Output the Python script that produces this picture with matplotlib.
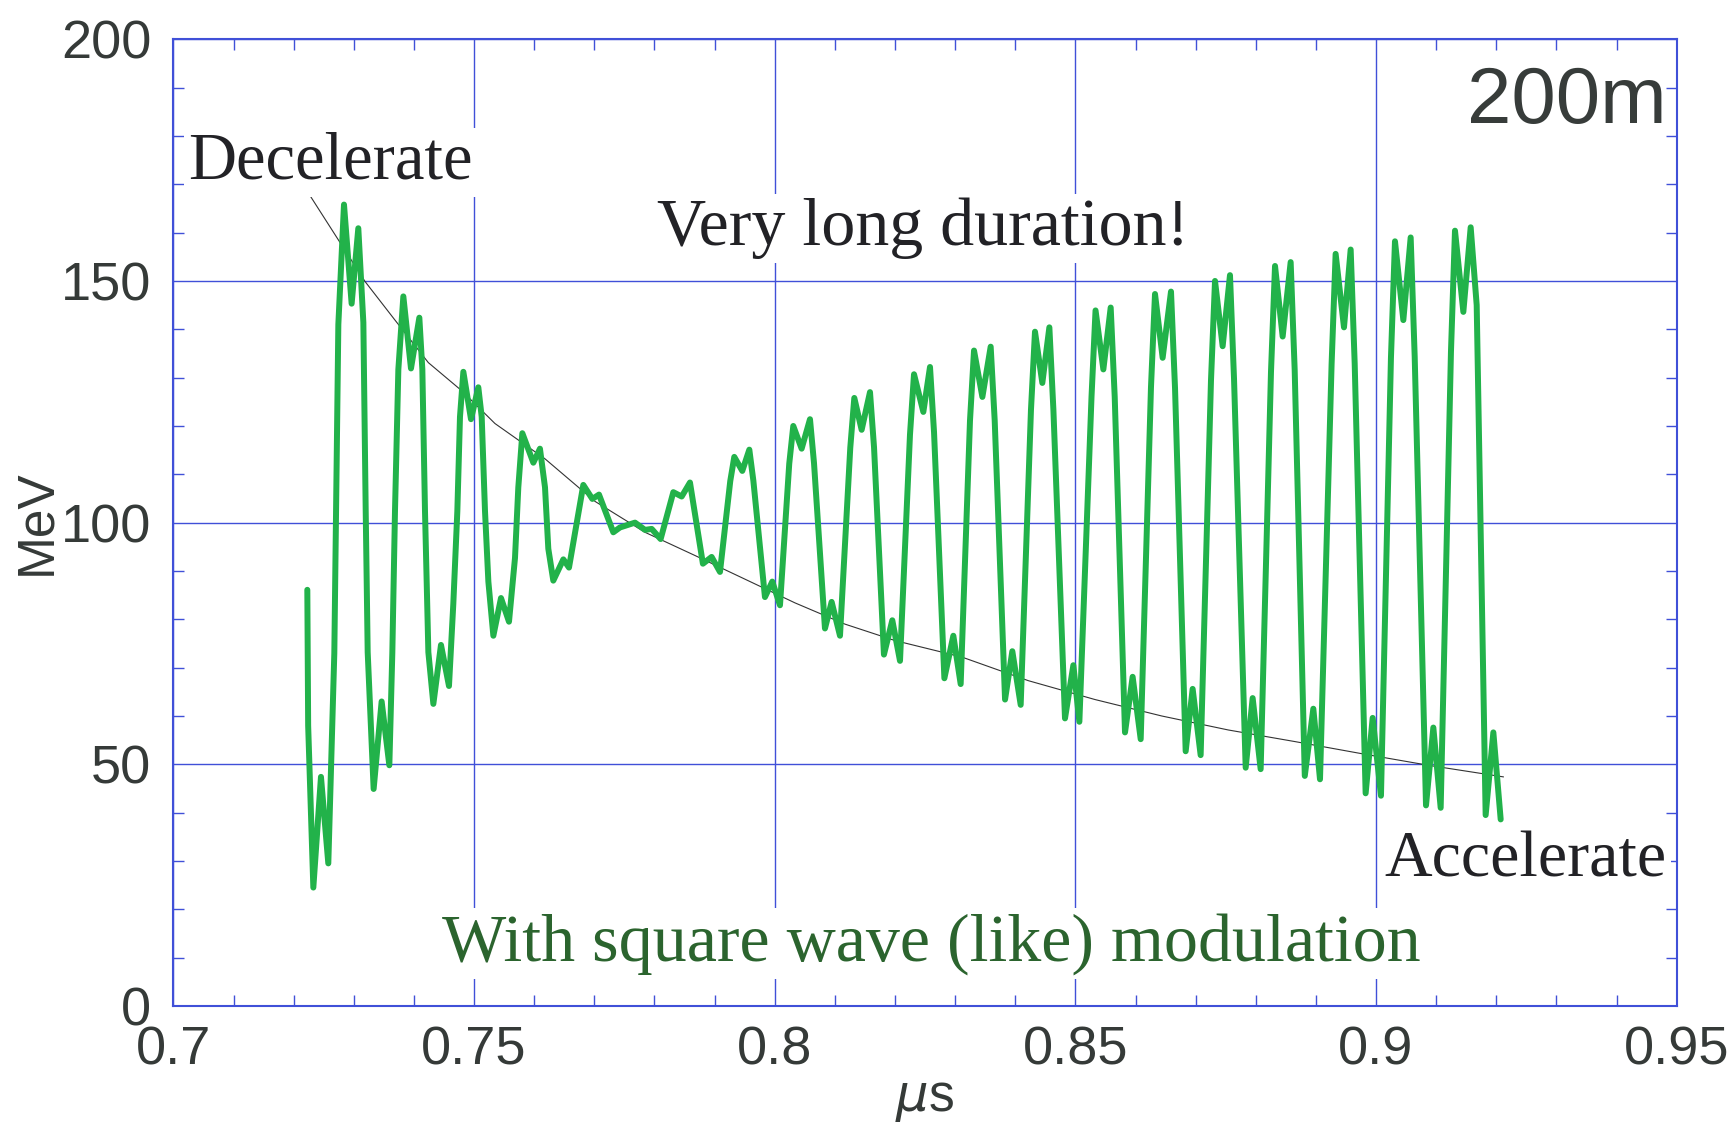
import matplotlib
matplotlib.use("Agg")
import matplotlib.pyplot as plt
import numpy as np

# energy of the bunch (green), one rf bucket per row
t_us = [0.72226, 0.72240, 0.72326, 0.72453, 0.72575, 0.72675, 0.72742,
        0.72836, 0.72963, 0.73074, 0.73158, 0.73197, 0.73230,
        0.73329, 0.73462, 0.73590, 0.73640, 0.73684, 0.73740,
        0.73823, 0.73950, 0.74089, 0.74139, 0.74183, 0.74239,
        0.74322, 0.74449, 0.74582, 0.74654, 0.74721, 0.74765,
        0.74821, 0.74948, 0.75070, 0.75126, 0.75181, 0.75237,
        0.75320, 0.75447, 0.75580, 0.75680, 0.75735,
        0.75802, 0.75985, 0.76095, 0.76179, 0.76234,
        0.76317, 0.76484, 0.76578, 0.76816, 0.76966, 0.77077,
        0.77315, 0.77426, 0.77676, 0.77842, 0.77953, 0.78102,
        0.78313, 0.78452, 0.78590, 0.78805, 0.78950, 0.79089, 0.79260,
        0.79327, 0.79460, 0.79577, 0.79644,
        0.79837, 0.79959, 0.80087, 0.80241, 0.80308, 0.80447, 0.80586, 0.80653,
        0.80835, 0.80946, 0.81085, 0.81256, 0.81323, 0.81445, 0.81584, 0.81651,
        0.81816, 0.81955, 0.82083, 0.82249, 0.82316, 0.82471, 0.82582, 0.82649,
        0.82821, 0.82970, 0.83092, 0.83247, 0.83314, 0.83453, 0.83591, 0.83658,
        0.83830, 0.83951, 0.84090, 0.84261, 0.84328, 0.84450, 0.84567, 0.84634,
        0.84827, 0.84966, 0.85066, 0.85268, 0.85335, 0.85465, 0.85587, 0.85654,
        0.85825, 0.85952, 0.86086, 0.86257, 0.86324, 0.86451, 0.86590, 0.86657,
        0.86834, 0.86950, 0.87083, 0.87255, 0.87322, 0.87449, 0.87571, 0.87638,
        0.87832, 0.87948, 0.88081, 0.88253, 0.88320, 0.88447, 0.88580, 0.88647,
        0.88815, 0.88957, 0.89068, 0.89261, 0.89328, 0.89467, 0.89578, 0.89645,
        0.89827, 0.89944, 0.90082, 0.90248, 0.90315, 0.90454, 0.90576, 0.90643,
        0.90831, 0.90953, 0.91075, 0.91246, 0.91313, 0.91452, 0.91574, 0.91674,
        0.91823, 0.91951, 0.92073]
e_mev = [86.1, 58.0, 24.5, 47.4, 29.5, 73.0, 141.0,
         165.8, 145.3, 160.9, 141.4, 102.4, 73.2,
         44.9, 63.0, 49.8, 73.2, 102.4, 131.7,
         146.8, 131.9, 142.4, 131.7, 102.4, 73.2,
         62.5, 74.7, 66.2, 83.2, 102.4, 121.9,
         131.2, 121.4, 128.0, 121.9, 102.4, 87.8,
         76.6, 84.4, 79.5, 92.7, 107.3,
         118.5, 112.4, 115.3, 107.3, 94.6,
         88.0, 92.4, 90.7, 107.8, 104.9, 105.8,
         98.0, 99.0, 100.0, 98.5, 98.7, 96.6,
         106.3, 105.4, 108.3, 91.5, 92.9, 89.8, 108.6,
         113.6, 110.7, 115.1, 108.7,
         84.6, 87.8, 82.9, 112.2, 120.0, 115.3, 121.4, 112.3,
         78.1, 83.6, 76.6, 115.5, 125.8, 119.2, 127.0, 115.6,
         72.7, 79.8, 71.4, 118.2, 130.7, 122.9, 132.2, 118.7,
         67.8, 76.6, 66.6, 121.1, 135.6, 126.0, 136.4, 121.1,
         63.4, 73.4, 62.3, 123.3, 139.5, 128.9, 140.4, 123.4,
         59.5, 70.5, 58.8, 126.0, 143.9, 131.7, 144.5, 126.0,
         56.6, 68.1, 55.2, 128.0, 147.3, 134.1, 147.8, 127.8,
         52.7, 65.6, 51.9, 129.4, 150.0, 136.5, 151.2, 129.8,
         49.3, 63.7, 49.0, 131.2, 153.1, 138.5, 153.9, 131.6,
         47.6, 61.5, 46.9, 132.8, 155.6, 140.4, 156.5, 132.9,
         44.0, 59.6, 43.5, 134.1, 158.2, 141.9, 159.0, 134.3,
         41.5, 57.6, 41.0, 135.3, 160.4, 143.6, 161.1, 145.0,
         39.5, 56.6, 38.6]

# reference (thin black) curve
ref_t = [0.72243, 0.72742, 0.73185, 0.73684, 0.74239, 0.74793, 0.75347, 0.76179,
         0.77010, 0.77842, 0.78673, 0.79505, 0.80336, 0.81168, 0.82000, 0.83109,
         0.84218, 0.85326, 0.86435, 0.87544, 0.88652, 0.89761, 0.90870, 0.92117]
ref_e = [168.2, 158.5, 149.9, 141.9, 133.1, 127.3, 120.5, 113.2,
         104.4, 98.0, 93.2, 88.3, 83.4, 79.0, 75.6, 72.2,
         67.3, 63.4, 60.0, 57.1, 54.7, 52.2, 49.8, 47.4]

x_ticks = [0.7, 0.75, 0.8, 0.85, 0.9, 0.95]
x_labels = ['0.7', '0.75', '0.8', '0.85', '0.9', '0.95']
y_ticks = [0, 50, 100, 150, 200]
y_labels = ['0', '50', '100', '150', '200']

blue = '#4050d8'
label_col = '#353a38'
serif = 'Liberation Serif'
sans = 'Liberation Sans'

fig = plt.figure(figsize=(17.33, 11.22), dpi=100)
ax = fig.add_axes([0.1001, 0.1034, 0.8674, 0.8616])

ax.plot(ref_t, ref_e, color='#333333', lw=0.8, zorder=3)
ax.plot(t_us, e_mev, color='#22b24a', lw=4.3, solid_joinstyle='round',
        solid_capstyle='round', zorder=4)

ax.set_xlim(0.7, 0.95)
ax.set_ylim(0, 200)
ax.set_xticks(x_ticks)
ax.set_xticklabels(x_labels)
ax.set_yticks(y_ticks)
ax.set_yticklabels(y_labels)
ax.set_xticks(np.arange(0.7, 0.951, 0.01), minor=True)
ax.set_yticks(np.arange(0, 201, 10), minor=True)
ax.grid(True, which='major', color=blue, lw=1.0, zorder=1)

ax.tick_params(which='both', direction='in', top=True, right=True, color=blue)
ax.tick_params(which='major', length=0, labelsize=39, labelcolor=label_col)
ax.tick_params(axis='x', which='major', pad=14)
ax.tick_params(axis='y', which='major', pad=16)
ax.tick_params(which='minor', length=8, width=1.0)
for lab in ax.get_xticklabels() + ax.get_yticklabels():
    lab.set_family(sans)
for s in ax.spines.values():
    s.set_color(blue)
    s.set_linewidth(1.5)

ax.set_xlabel(r'$\mu$s', fontsize=37, color=label_col, family=sans, labelpad=0)
ax.set_ylabel('MeV', fontsize=37, color=label_col, family=sans, labelpad=0)

box = dict(facecolor='white', edgecolor='none', pad=3)
ax.text(0.70241, 171.1, 'Decelerate', family=serif, fontsize=48, color='#222226',
        ha='left', va='baseline', bbox=box, zorder=5)
ax.text(0.82473, 157.4, 'Very long duration!', family=serif, fontsize=49,
        color='#222226', ha='center', va='baseline', bbox=box, zorder=5)
ax.text(0.94837, 26.7, 'Accelerate', family=serif, fontsize=47.5, color='#222226',
        ha='right', va='baseline', bbox=box, zorder=5)
ax.text(0.82598, 9.5, 'With square wave (like) modulation', family=serif,
        fontsize=49, color='#2b642e', ha='center', va='baseline', bbox=box, zorder=5)
ax.text(0.94837, 182.7, '200m', family=sans, fontsize=57.5, color='#373c3a',
        ha='right', va='baseline', zorder=5)

fig.savefig('out.png', dpi=100)
